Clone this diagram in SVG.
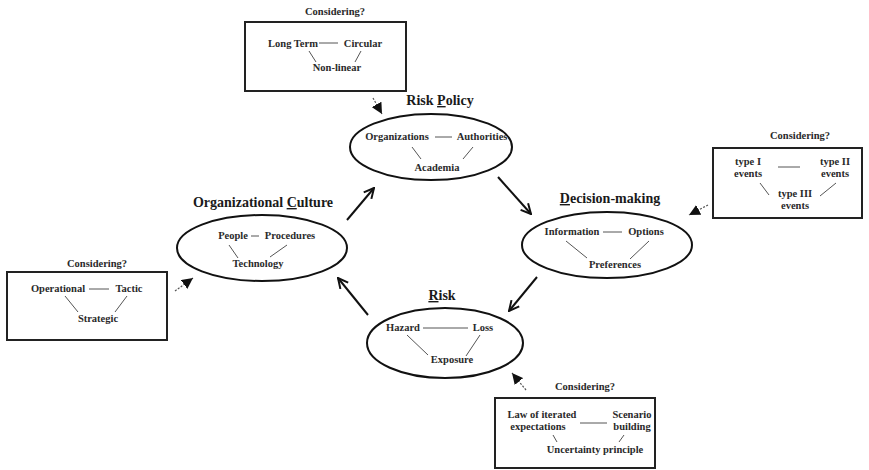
<svg xmlns="http://www.w3.org/2000/svg" width="869" height="470" viewBox="0 0 869 470">
<style>
  text { font-family: "Liberation Serif", "Times New Roman", serif; font-weight: bold; fill: #2a2a2a; }
  .t { font-size: 10.5px; text-anchor: middle; }
  .title { font-size: 14px; text-anchor: middle; fill: #1a1a1a; }
  .ell { fill: #fff; stroke: #111; stroke-width: 2; }
  .box { fill: #fff; stroke: #222; stroke-width: 2; }
  .lk { stroke: #555; stroke-width: 1; fill: none; }
  .arr { stroke: #111; stroke-width: 2; fill: none; marker-end: url(#chev); }
  .dot { stroke: #555; stroke-width: 1.2; stroke-dasharray: 2 1.5; fill: none; marker-end: url(#tri); }
  .u { text-decoration: underline; }
</style>
<defs>
  <marker id="chev" viewBox="0 0 12 12" markerWidth="12" markerHeight="12" markerUnits="userSpaceOnUse" refX="11" refY="6" orient="auto">
    <path d="M1,1 L11,6 L1,11" fill="none" stroke="#111" stroke-width="2"/>
  </marker>
  <marker id="tri" viewBox="0 0 10 10" markerWidth="11" markerHeight="11" markerUnits="userSpaceOnUse" refX="10" refY="5" orient="auto">
    <path d="M0,0 L10,5 L0,10 z" fill="#111"/>
  </marker>
</defs>
<rect width="869" height="470" fill="#fff"/>

<g id="connectors">
  <line class="arr" x1="347" y1="220" x2="374" y2="188"/>
  <line class="arr" x1="498" y1="177" x2="531" y2="214"/>
  <line class="arr" x1="537" y1="277" x2="509" y2="311"/>
  <line class="arr" x1="368" y1="315" x2="338" y2="278"/>
  <line class="dot" x1="373" y1="98" x2="382" y2="114"/>
  <line class="dot" x1="708" y1="205" x2="689" y2="215"/>
  <line class="dot" x1="526" y1="390" x2="512" y2="373"/>
  <line class="dot" x1="175" y1="291" x2="193" y2="278"/>
</g>

<g id="box-top">
  <text class="t" x="335" y="15">Considering?</text>
  <rect class="box" x="245" y="22" width="161" height="69"/>
  <text class="t" x="293" y="47">Long Term</text>
  <line class="lk" x1="319" y1="43" x2="338" y2="43"/>
  <text class="t" x="363" y="47">Circular</text>
  <line class="lk" x1="309" y1="51" x2="316" y2="62"/>
  <line class="lk" x1="361" y1="51" x2="355" y2="62"/>
  <text class="t" x="337" y="71">Non-linear</text>
</g>

<g id="risk-policy">
  <text class="title" x="440" y="105">Risk <tspan class="u">P</tspan>olicy</text>
  <ellipse class="ell" cx="431" cy="147" rx="81" ry="33"/>
  <text class="t" x="397" y="140">Organizations</text>
  <line class="lk" x1="435" y1="137" x2="452" y2="137"/>
  <text class="t" x="482" y="140">Authorities</text>
  <line class="lk" x1="412" y1="147" x2="421" y2="159"/>
  <line class="lk" x1="473" y1="147" x2="463" y2="159"/>
  <text class="t" x="437" y="171">Academia</text>
</g>

<g id="box-right">
  <text class="t" x="800" y="139">Considering?</text>
  <rect class="box" x="713" y="148" width="149" height="70"/>
  <text class="t" x="748" y="165">type I</text>
  <text class="t" x="748" y="177">events</text>
  <line class="lk" x1="778" y1="167" x2="800" y2="167"/>
  <text class="t" x="835" y="165">type II</text>
  <text class="t" x="835" y="177">events</text>
  <line class="lk" x1="760" y1="183" x2="769" y2="195"/>
  <line class="lk" x1="836" y1="183" x2="820" y2="196"/>
  <text class="t" x="795" y="197">type III</text>
  <text class="t" x="795" y="209">events</text>
</g>

<g id="decision-making">
  <text class="title" x="610" y="203"><tspan class="u">D</tspan>ecision-making</text>
  <ellipse class="ell" cx="607" cy="245" rx="85" ry="33"/>
  <text class="t" x="572" y="235">Information</text>
  <line class="lk" x1="603" y1="232" x2="622" y2="232"/>
  <text class="t" x="646" y="235">Options</text>
  <line class="lk" x1="566" y1="241" x2="587" y2="258"/>
  <line class="lk" x1="649" y1="241" x2="630" y2="259"/>
  <text class="t" x="615" y="268">Preferences</text>
</g>

<g id="org-culture">
  <text class="title" x="263" y="207">Organizational <tspan class="u">C</tspan>ulture</text>
  <ellipse class="ell" cx="262" cy="248" rx="85" ry="33"/>
  <text class="t" x="233" y="239">People</text>
  <line class="lk" x1="251" y1="236" x2="259" y2="236"/>
  <text class="t" x="290" y="239">Procedures</text>
  <line class="lk" x1="229" y1="245" x2="238" y2="258"/>
  <line class="lk" x1="287" y1="245" x2="270" y2="257"/>
  <text class="t" x="258" y="267">Technology</text>
</g>

<g id="box-left">
  <text class="t" x="97" y="267">Considering?</text>
  <rect class="box" x="7" y="272" width="160" height="68"/>
  <text class="t" x="58" y="292">Operational</text>
  <line class="lk" x1="89" y1="289" x2="109" y2="289"/>
  <text class="t" x="129" y="292">Tactic</text>
  <line class="lk" x1="65" y1="296" x2="78" y2="312"/>
  <line class="lk" x1="127" y1="296" x2="115" y2="312"/>
  <text class="t" x="98" y="322">Strategic</text>
</g>

<g id="risk">
  <text class="title" x="442" y="300"><tspan class="u">R</tspan>isk</text>
  <ellipse class="ell" cx="445" cy="343" rx="78" ry="35"/>
  <text class="t" x="403" y="331">Hazard</text>
  <line class="lk" x1="423" y1="328" x2="468" y2="328"/>
  <text class="t" x="483" y="331">Loss</text>
  <line class="lk" x1="407" y1="335" x2="428" y2="355"/>
  <line class="lk" x1="480" y1="335" x2="466" y2="356"/>
  <text class="t" x="452" y="363">Exposure</text>
</g>

<g id="box-bottom">
  <text class="t" x="585" y="390">Considering?</text>
  <rect class="box" x="495" y="398" width="160" height="70"/>
  <text class="t" x="542" y="418">Law of iterated</text>
  <text class="t" x="538" y="430">expectations</text>
  <line class="lk" x1="580" y1="423" x2="607" y2="423"/>
  <text class="t" x="632" y="418">Scenario</text>
  <text class="t" x="632" y="430">building</text>
  <line class="lk" x1="553" y1="435" x2="557" y2="442"/>
  <line class="lk" x1="624" y1="435" x2="619" y2="442"/>
  <text class="t" x="595" y="453">Uncertainty principle</text>
</g>
</svg>
